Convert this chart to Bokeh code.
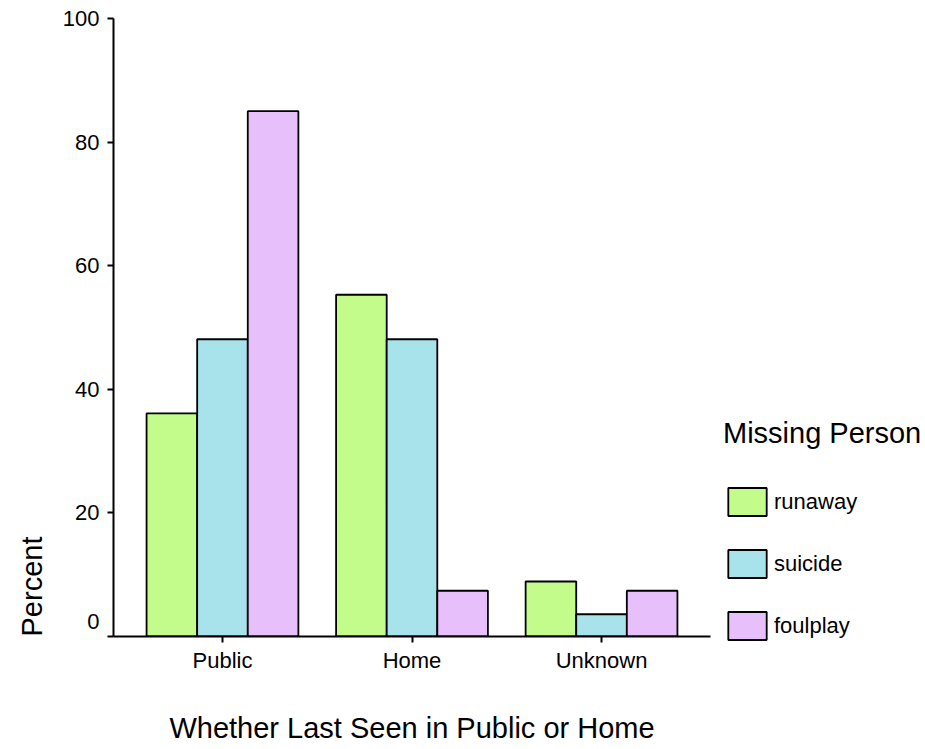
from bokeh.plotting import figure
from bokeh.models import FactorRange, FixedTicker, Legend, Title
from bokeh.transform import dodge
from bokeh.embed import file_html
from bokeh.resources import INLINE

places = ["Public", "Home", "Unknown"]
runaway = [36.1, 55.3, 8.9]
suicide = [48.1, 48.1, 3.6]
foulplay = [85.0, 7.4, 7.4]
series = ["runaway", "suicide", "foulplay"]
colors = ["#C3FC8A", "#A8E3EC", "#E7BFFB"]
y_ticks = [0, 20, 40, 60, 80, 100]

FONT = "Liberation Sans"

p = figure(x_range=FactorRange(factors=places, range_padding=0.05),
           y_range=(0, 100), frame_width=597, frame_height=618,
           output_backend="svg", toolbar_location=None,
           min_border_left=113, min_border_right=200,
           min_border_top=18, min_border_bottom=100)
p.outline_line_color = None
p.grid.visible = False

data = {"place": places, "runaway": runaway, "suicide": suicide, "foulplay": foulplay}
bw = 0.267
offsets = [-bw, 0, bw]
items = []
for name, col, off in zip(series, colors, offsets):
    r = p.vbar(x=dodge("place", off, range=p.x_range), top=name, width=bw,
               source=data, fill_color=col, line_color="black", line_width=1.8)
    items.append((name, [r]))

for ax in (p.xaxis[0], p.yaxis[0]):
    ax.axis_line_width = 2
    ax.major_tick_line_width = 2
    ax.major_tick_in = 0
    ax.major_tick_out = 6
    ax.minor_tick_line_color = None
    ax.major_label_text_font = FONT
    ax.major_label_text_font_size = "22px"
    ax.major_label_text_color = "black"

p.yaxis.ticker = FixedTicker(ticks=y_ticks)
p.yaxis.major_label_overrides = {0: "0\n"}
p.yaxis.major_label_standoff = 8
p.xaxis.major_label_standoff = 5
p.xaxis.axis_label = "Whether Last Seen in Public or Home"
p.xaxis.axis_label_text_font = FONT
p.xaxis.axis_label_text_font_size = "29px"
p.xaxis.axis_label_text_font_style = "normal"
p.xaxis.axis_label_text_color = "black"
p.xaxis.axis_label_standoff = 36

ylab = Title(text="Percent", align="left", text_font=FONT, text_color="black",
             text_font_size="29px", text_font_style="normal", standoff=24)
p.add_layout(ylab, "left")

legend = Legend(items=items, title="Missing Person", location=(13, -7))
legend.title_text_font = FONT
legend.title_text_font_size = "29px"
legend.title_text_font_style = "normal"
legend.title_text_color = "black"
legend.title_standoff = 34
legend.label_text_font = FONT
legend.label_text_font_size = "22px"
legend.label_text_color = "black"
legend.glyph_width = 48
legend.glyph_height = 35
legend.label_standoff = 3
legend.spacing = 27
legend.padding = 10
legend.margin = 0
legend.border_line_color = None
legend.background_fill_alpha = 0
p.add_layout(legend, "right")

open("out.html", "w").write(file_html(p, INLINE))
